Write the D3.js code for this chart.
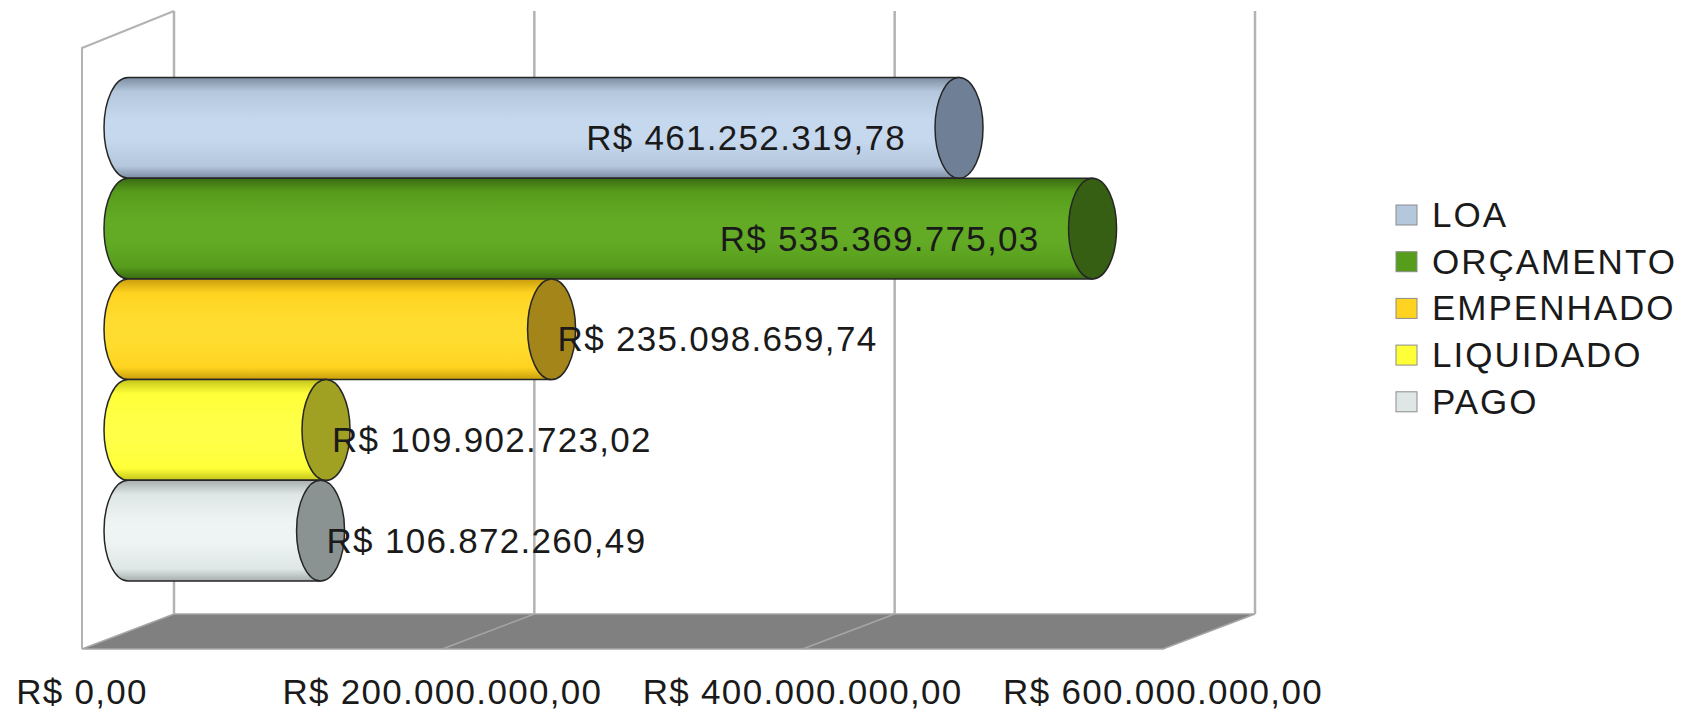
<!DOCTYPE html>
<html>
<head>
<meta charset="utf-8">
<script src="https://cdn.jsdelivr.net/npm/d3@7"></script>
<style>
  html, body { margin: 0; padding: 0; background: #ffffff; }
  svg { display: block; }
  text { font-family: "Liberation Sans", Arial, sans-serif; fill: #1a1a1a; }
</style>
</head>
<body>
<svg id="chart" width="1688" height="710"></svg>
<script>
// ---- data ----
const categories = ["LOA", "ORÇAMENTO", "EMPENHADO", "LIQUIDADO", "PAGO"];
const values = [461252319.78, 535369775.03, 235098659.74, 109902723.02, 106872260.49];
const tickValues = [0, 200000000, 400000000, 600000000];
const baseColors = ["#b4c7dc", "#579d1c", "#ffd320", "#ffff38", "#dee6e6"];
const lightColors = ["#c6d8ee", "#63ab25", "#ffdd30", "#ffff48", "#eef4f4"];
const darkColors = ["#7d8da2", "#3a6b12", "#c99e0c", "#c4c41c", "#a6aeae"];
const capColors = ["#6f8096", "#375f13", "#a4851a", "#a0a022", "#8a9292"];

// ---- layout ----
const svg = d3.select("#chart");
const depthX = 92, depthY = -35;
const floorFrontY = 649;
const wallTopBackY = 11;
const xFront = d3.scaleLinear().domain([0, 600000000]).range([82, 1163]);
const xBack = v => xFront(v) + depthX;
const xMid = v => xFront(v) + depthX / 2;
const y = d3.scaleBand().domain(categories).range([77.5, 581]).padding(0);

const brl = d3.formatLocale({decimal: ",", thousands: ".", grouping: [3], currency: ["R$ ", ""]});
const fmt = brl.format("$,.2f");

const grid = "#b3b3b3";

// Floor
const f0 = xFront(0), f1 = xFront(600000000);
svg.append("path")
  .attr("d", `M${f0},${floorFrontY} L${f0 + depthX},${floorFrontY + depthY} L${f1 + depthX},${floorFrontY + depthY} L${f1},${floorFrontY} Z`)
  .attr("fill", "#808080")
  .attr("stroke", "#a6a6a6").attr("stroke-width", 1.5);

// Floor grid slants
svg.append("g").selectAll("line").data(tickValues.slice(1, -1)).join("line")
  .attr("x1", d => xFront(d)).attr("y1", floorFrontY)
  .attr("x2", d => xBack(d)).attr("y2", floorFrontY + depthY)
  .attr("stroke", "#a6a6a6").attr("stroke-width", 1.5);

// Left wall outline
svg.append("path")
  .attr("d", `M${f0},${floorFrontY} L${f0},${wallTopBackY - depthY + 2} L${f0 + depthX},${wallTopBackY}`)
  .attr("fill", "none").attr("stroke", grid).attr("stroke-width", 2);

// Back wall vertical gridlines
svg.append("g").selectAll("line").data(tickValues).join("line")
  .attr("x1", d => xBack(d)).attr("x2", d => xBack(d))
  .attr("y1", wallTopBackY).attr("y2", floorFrontY + depthY)
  .attr("stroke", grid).attr("stroke-width", 2.5);

// Gradients
const defs = svg.append("defs");
categories.forEach((c, i) => {
  const g = defs.append("linearGradient").attr("id", "g" + i)
    .attr("x1", 0).attr("y1", 0).attr("x2", 0).attr("y2", 1);
  [[0, darkColors[i]], [0.14, baseColors[i]], [0.42, lightColors[i]], [0.62, lightColors[i]], [0.88, baseColors[i]], [1, darkColors[i]]]
    .forEach(([o, col]) => g.append("stop").attr("offset", o).attr("stop-color", col));
});

// Cylinders
const rx = 24;
const bars = svg.append("g");
categories.forEach((c, i) => {
  const top = y(c), h = y.bandwidth(), bot = top + h, ry = h / 2, cy = top + ry;
  const x0 = xMid(0), x1 = xMid(values[i]);
  const g = bars.append("g");
  g.append("path")
    .attr("d", `M${x0},${top} L${x1},${top} L${x1},${bot} L${x0},${bot} A${rx},${ry} 0 0 1 ${x0},${top} Z`)
    .attr("fill", `url(#g${i})`)
    .attr("stroke", "#262626").attr("stroke-width", 1.5);
  g.append("ellipse")
    .attr("cx", x1).attr("cy", cy).attr("rx", rx).attr("ry", ry)
    .attr("fill", capColors[i])
    .attr("stroke", "#262626").attr("stroke-width", 1.5);
});

// Value labels
svg.append("g").selectAll("text").data(categories).join("text")
  .attr("x", (c, i) => values[i] > 400000000 ? xMid(values[i]) - 53 : xMid(values[i]) + 6)
  .attr("y", c => y(c) + y.bandwidth() / 2 + 22)
  .attr("text-anchor", (c, i) => values[i] > 400000000 ? "end" : "start")
  .style("font-size", "35px").style("letter-spacing", "1.3px")
  .text((c, i) => fmt(values[i]));

// Axis tick labels
svg.append("g").selectAll("text").data(tickValues).join("text")
  .attr("x", d => xFront(d)).attr("y", 704)
  .attr("text-anchor", "middle")
  .style("font-size", "35px").style("letter-spacing", "1.3px")
  .text(d => fmt(d));

// Legend
const legend = svg.append("g").attr("transform", "translate(1396,215)");
const row = legend.selectAll("g").data(categories).join("g")
  .attr("transform", (c, i) => `translate(0,${i * 46.7})`);
row.append("rect").attr("x", 0).attr("y", -10).attr("width", 21).attr("height", 20)
  .attr("fill", (c, i) => baseColors[i]).attr("stroke", "#8c8c8c").attr("stroke-width", 1);
row.append("text").attr("x", 36).attr("y", 12)
  .style("font-size", "35px").style("letter-spacing", "2px")
  .text(c => c);
</script>
</body>
</html>
